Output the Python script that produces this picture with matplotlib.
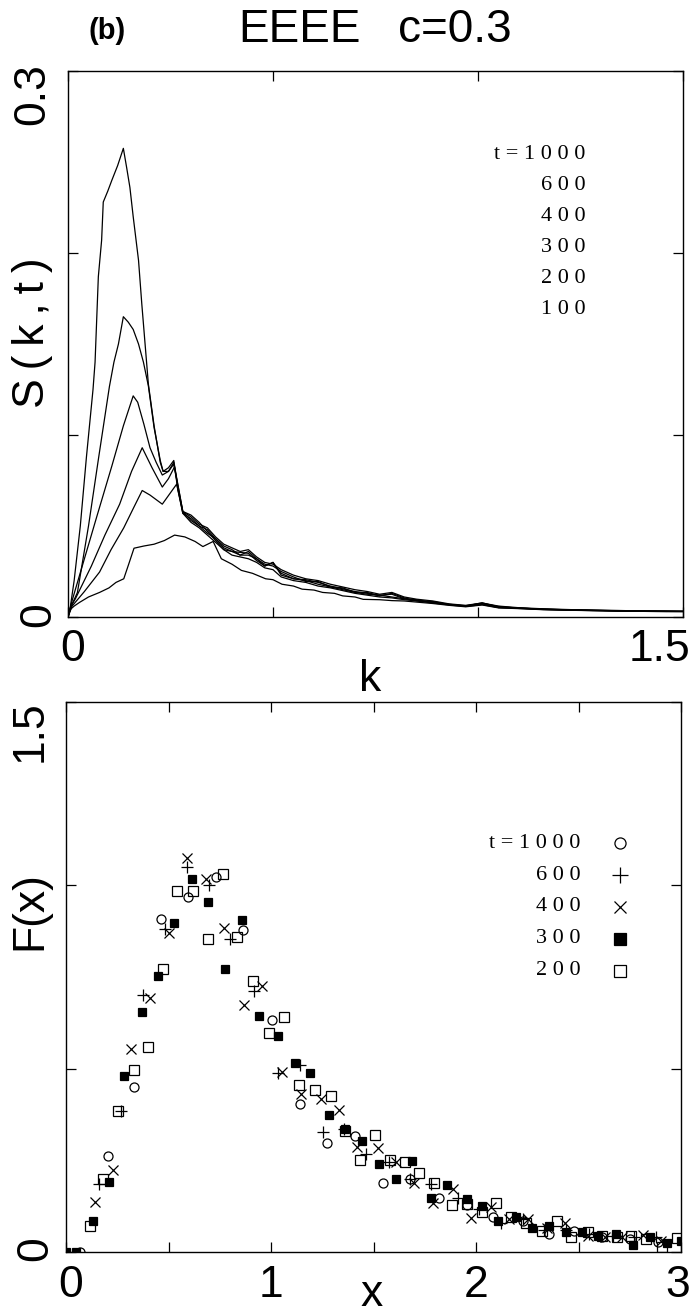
import matplotlib
matplotlib.use('Agg')
import matplotlib.pyplot as plt
from matplotlib.transforms import blended_transform_factory

# ---- panel (b) top: structure factor S(k,t) ----
t_labels = ['t = 1 0 0 0', '6 0 0', '4 0 0', '3 0 0', '2 0 0', '1 0 0']

tail_k = [0.30, 0.32, 0.34, 0.36, 0.38, 0.40, 0.42, 0.44, 0.46, 0.48, 0.50, 0.52,
          0.55, 0.58, 0.61, 0.64, 0.67, 0.70, 0.73, 0.76, 0.79, 0.82, 0.85, 0.89,
          0.93, 0.97, 1.01, 1.05, 1.10, 1.16, 1.22, 1.28, 1.34, 1.40, 1.46, 1.50]

k1000 = [0, 0.006, 0.015, 0.03, 0.045, 0.061, 0.066, 0.074, 0.082, 0.086, 0.097,
         0.107, 0.121, 0.135, 0.143, 0.151, 0.159, 0.172, 0.180, 0.196, 0.210,
         0.225, 0.232, 0.245, 0.258, 0.268, 0.28] + tail_k
s1000 = [0, 0.006, 0.02, 0.05, 0.088, 0.125, 0.14, 0.187, 0.207, 0.228, 0.234,
         0.240, 0.248, 0.2575, 0.247, 0.236, 0.220, 0.196, 0.172, 0.128, 0.105,
         0.085, 0.080, 0.080, 0.085, 0.070, 0.058,
         0.056, 0.052, 0.047, 0.042, 0.037, 0.036, 0.0355, 0.035, 0.031, 0.028,
         0.030, 0.023, 0.021, 0.0205, 0.019, 0.017, 0.0155, 0.014, 0.013, 0.012,
         0.0125, 0.010, 0.0095, 0.008, 0.007, 0.006, 0.0078, 0.0055, 0.005,
         0.0042, 0.004, 0.0037, 0.0035, 0.0033, 0.0032, 0.0031]

k600 = [0, 0.006, 0.023, 0.05, 0.075, 0.101, 0.112, 0.123, 0.135, 0.147, 0.159,
        0.172, 0.184, 0.196, 0.210, 0.225, 0.232, 0.245, 0.258, 0.268, 0.28] + tail_k
s600 = [0, 0.005, 0.0135, 0.05, 0.088, 0.1266, 0.140, 0.150, 0.165, 0.162, 0.158,
        0.150, 0.140, 0.127, 0.104, 0.086, 0.080, 0.082, 0.086, 0.071, 0.057,
        0.054, 0.050, 0.048, 0.043, 0.039, 0.037, 0.034, 0.036, 0.032, 0.029,
        0.028, 0.025, 0.022, 0.0195, 0.0195, 0.0165, 0.016, 0.0135, 0.0135,
        0.0115, 0.013, 0.0105, 0.009, 0.0085, 0.0068, 0.0062, 0.0075, 0.0058,
        0.0048, 0.0044, 0.0039, 0.0038, 0.0034, 0.0034, 0.0031, 0.0032]

k400 = [0, 0.01, 0.04, 0.07, 0.107, 0.135, 0.159, 0.17, 0.185, 0.20, 0.215, 0.23,
        0.245, 0.258, 0.27, 0.28] + tail_k
s400 = [0, 0.009, 0.032, 0.055, 0.083, 0.105, 0.1215, 0.118, 0.106, 0.093, 0.085,
        0.078, 0.080, 0.084, 0.070, 0.058,
        0.055, 0.051, 0.049, 0.044, 0.040, 0.038, 0.036, 0.037, 0.033, 0.030,
        0.029, 0.026, 0.023, 0.021, 0.020, 0.018, 0.0165, 0.015, 0.014, 0.0125,
        0.0135, 0.011, 0.0098, 0.0088, 0.0072, 0.0064, 0.0077, 0.006, 0.0051,
        0.0045, 0.0041, 0.0037, 0.0036, 0.0033, 0.0033, 0.0031]

k300 = [0, 0.01, 0.018, 0.057, 0.09, 0.126, 0.155, 0.181, 0.205, 0.230, 0.245,
        0.260, 0.28] + tail_k
s300 = [0, 0.007, 0.010, 0.028, 0.045, 0.062, 0.080, 0.093, 0.082, 0.0714, 0.076,
        0.0826, 0.058,
        0.053, 0.050, 0.046, 0.043, 0.038, 0.036, 0.034, 0.034, 0.032, 0.028,
        0.030, 0.024, 0.021, 0.020, 0.018, 0.0165, 0.015, 0.0135, 0.0125, 0.012,
        0.011, 0.010, 0.009, 0.008, 0.0068, 0.006, 0.0072, 0.0052, 0.0049,
        0.0042, 0.0039, 0.0036, 0.0034, 0.0032, 0.0031, 0.003]

k200 = [0, 0.01, 0.04, 0.077, 0.105, 0.136, 0.16, 0.181, 0.20, 0.23, 0.265,
        0.28] + tail_k
s200 = [0, 0.006, 0.014, 0.0247, 0.037, 0.049, 0.060, 0.0695, 0.067, 0.062, 0.073,
        0.057,
        0.052, 0.049, 0.045, 0.041, 0.037, 0.034, 0.033, 0.032, 0.030, 0.027,
        0.026, 0.022, 0.020, 0.019, 0.017, 0.016, 0.0145, 0.013, 0.012, 0.011,
        0.0105, 0.0095, 0.0088, 0.0077, 0.0066, 0.0058, 0.0068, 0.0052, 0.0047,
        0.0041, 0.0038, 0.0035, 0.0033, 0.0031, 0.003, 0.003]

k100 = [0, 0.005, 0.015, 0.028, 0.05, 0.077, 0.10, 0.117, 0.136, 0.148, 0.161,
        0.185, 0.21, 0.235, 0.26, 0.285, 0.31, 0.329, 0.354, 0.374, 0.40, 0.423,
        0.45, 0.482, 0.50, 0.522, 0.55, 0.571, 0.60, 0.621, 0.65, 0.67, 0.70,
        0.72, 0.76, 0.79, 0.82, 0.85, 0.89, 0.93, 0.97, 1.01, 1.05, 1.10, 1.16,
        1.22, 1.28, 1.34, 1.40, 1.46, 1.50]
s100 = [0, 0.004, 0.006, 0.008, 0.011, 0.0135, 0.016, 0.019, 0.021, 0.029, 0.0378,
        0.039, 0.040, 0.042, 0.045, 0.044, 0.0415, 0.0387, 0.0415, 0.032, 0.029,
        0.0256, 0.024, 0.021, 0.0205, 0.018, 0.017, 0.0153, 0.0148, 0.0135, 0.013,
        0.0116, 0.011, 0.0097, 0.0095, 0.009, 0.0088, 0.0082, 0.0074, 0.0064,
        0.0056, 0.0066, 0.005, 0.0046, 0.004, 0.0037, 0.0035, 0.0032, 0.0031,
        0.003, 0.003]

# ---- panel (b) bottom: scaling function F(x) ----
F_labels = ['t = 1 0 0 0', '6 0 0', '4 0 0', '3 0 0', '2 0 0']

x1000 = [0.068, 0.203, 0.332, 0.462, 0.597, 0.730, 0.865, 1.005, 1.143, 1.275,
         1.411, 1.545, 1.680, 1.820, 1.955, 2.085, 2.228, 2.358, 2.478, 2.617,
         2.750, 2.889]
f1000 = [0.0, 0.262, 0.451, 0.907, 0.967, 1.024, 0.878, 0.633, 0.404, 0.296,
         0.317, 0.187, 0.198, 0.146, 0.128, 0.096, 0.085, 0.049, 0.057, 0.042,
         0.035, 0.028]

x600 = [0.162, 0.27, 0.374, 0.483, 0.589, 0.698, 0.800, 0.917, 1.035, 1.14, 1.252,
        1.357, 1.462, 1.577, 1.68, 1.78, 1.914, 2.017, 2.12, 2.23, 2.33, 2.44,
        2.55, 2.67, 2.77, 2.878]
f600 = [0.185, 0.385, 0.701, 0.880, 1.051, 1.001, 0.854, 0.713, 0.489, 0.51, 0.327,
        0.335, 0.266, 0.245, 0.20, 0.185, 0.146, 0.118, 0.08, 0.09, 0.06, 0.06,
        0.05, 0.044, 0.04, 0.04]

x400 = [0.140, 0.231, 0.315, 0.410, 0.502, 0.589, 0.681, 0.771, 0.868, 0.958,
        1.052, 1.145, 1.244, 1.333, 1.421, 1.520, 1.608, 1.699, 1.790, 1.889,
        1.976, 2.072, 2.160, 2.255, 2.345, 2.434, 2.545, 2.63, 2.711, 2.813, 2.90]
f400 = [0.136, 0.224, 0.555, 0.694, 0.869, 1.074, 1.016, 0.885, 0.674, 0.725,
        0.492, 0.431, 0.417, 0.387, 0.287, 0.283, 0.245, 0.187, 0.135, 0.171,
        0.092, 0.122, 0.090, 0.089, 0.065, 0.078, 0.044, 0.04, 0.041, 0.046, 0.03]

x300 = [0.0, 0.048, 0.130, 0.210, 0.283, 0.369, 0.447, 0.527, 0.613, 0.691, 0.774,
        0.857, 0.943, 1.033, 1.117, 1.190, 1.283, 1.361, 1.442, 1.528, 1.608,
        1.686, 1.780, 1.857, 1.955, 2.028, 2.109, 2.194, 2.272, 2.356, 2.439,
        2.515, 2.597, 2.683, 2.764, 2.849, 2.930, 2.998]
f300 = [0.0, 0.0, 0.085, 0.192, 0.480, 0.655, 0.753, 0.896, 1.016, 0.955, 0.771,
        0.905, 0.644, 0.590, 0.516, 0.487, 0.375, 0.335, 0.304, 0.240, 0.198,
        0.249, 0.146, 0.182, 0.144, 0.125, 0.085, 0.096, 0.066, 0.071, 0.055,
        0.055, 0.044, 0.049, 0.019, 0.040, 0.025, 0.030]

x200 = [0.117, 0.182, 0.254, 0.332, 0.402, 0.475, 0.540, 0.621, 0.691, 0.764,
        0.833, 0.911, 0.992, 1.063, 1.138, 1.215, 1.291, 1.36, 1.434, 1.507, 1.58,
        1.654, 1.724, 1.797, 1.885, 1.955, 2.028, 2.098, 2.169, 2.245, 2.32,
        2.394, 2.462, 2.545, 2.617, 2.69, 2.756, 2.83, 2.909, 2.979]
f200 = [0.071, 0.198, 0.385, 0.496, 0.560, 0.771, 0.985, 0.985, 0.854, 1.030,
        0.858, 0.740, 0.596, 0.642, 0.455, 0.442, 0.426, 0.33, 0.251, 0.319, 0.25,
        0.245, 0.216, 0.187, 0.128, 0.13, 0.110, 0.133, 0.096, 0.08, 0.058,
        0.085, 0.042, 0.055, 0.045, 0.04, 0.044, 0.035, 0.015, 0.037]


W, H = 692, 1316
fig = plt.figure(figsize=(W / 100, H / 100), dpi=100)


def rect(left, top, right, bottom):
    return [left / W, 1 - bottom / H, (right - left) / W, (bottom - top) / H]


sans = ['Liberation Sans', 'DejaVu Sans']
serif = ['Liberation Serif', 'DejaVu Serif']
thin = '\u2009'

ax1 = fig.add_axes(rect(68, 71, 683, 617))
ax2 = fig.add_axes(rect(66, 702, 681, 1252))

for ax in (ax1, ax2):
    ax.tick_params(direction='in', length=7, width=0.9, top=True, right=True,
                   labelbottom=False, labelleft=False)
    for sp in ax.spines.values():
        sp.set_linewidth(1.0)

# top panel
for k, s in [(k1000, s1000), (k600, s600), (k400, s400),
             (k300, s300), (k200, s200), (k100, s100)]:
    ax1.plot(k, s, color='black', lw=0.9)
ax1.set_xlim(0, 1.5)
ax1.set_ylim(0, 0.3)
ax1.set_xticks([0, 0.5, 1.0, 1.5])
ax1.set_yticks([0, 0.1, 0.2, 0.3])

rows1 = [0.254, 0.237, 0.220, 0.203, 0.186, 0.169]
for lab, yv in zip(t_labels, rows1):
    ax1.text(1.263, yv, lab, ha='right', va='center', family=serif, fontsize=16)

bx1 = blended_transform_factory(ax1.transData, ax1.transAxes)
by1 = blended_transform_factory(ax1.transAxes, ax1.transData)
ax1.text(0.012, -0.022, '0', transform=bx1, ha='center', va='top',
         family=sans, fontsize=32)
ax1.text(1.517, -0.022, '1.5', transform=bx1, ha='right', va='top',
         family=sans, fontsize=32)
ax1.text(0.737, -0.115, 'k', transform=bx1, ha='center', va='center',
         family=sans, fontsize=32)
ax1.text(-0.057, 1.015, '0.3', transform=ax1.transAxes, rotation=90,
         ha='center', va='top', family=sans, fontsize=32)
ax1.text(-0.048, 0.0015, '0', transform=by1, rotation=90,
         ha='center', va='center', family=sans, fontsize=32)
ax1.text(-0.058, 0.52, thin.join('S(k,t)'), transform=ax1.transAxes, rotation=90,
         ha='center', va='center', family=sans, fontsize=32)

# bottom panel
ax2.plot(x1000, f1000, ls='none', marker='o', ms=6.5, mfc='none', mec='black', mew=0.9)
ax2.plot(x600, f600, ls='none', marker='+', ms=9, mec='black', mew=0.9)
ax2.plot(x400, f400, ls='none', marker='x', ms=7.5, mec='black', mew=0.9)
ax2.plot(x300, f300, ls='none', marker='s', ms=6, mfc='black', mec='black', mew=0.9)
ax2.plot(x200, f200, ls='none', marker='s', ms=6.5, mfc='none', mec='black', mew=0.9)
ax2.set_xlim(0, 3)
ax2.set_ylim(0, 1.5)
ax2.set_xticks([0, 0.5, 1.0, 1.5, 2.0, 2.5, 3.0])
ax2.set_yticks([0, 0.5, 1.0, 1.5])

rows2 = [1.115, 1.028, 0.941, 0.854, 0.767]
leg_marks = [dict(marker='o', ms=8, mfc='none'), dict(marker='+', ms=11),
             dict(marker='x', ms=9), dict(marker='s', ms=8, mfc='black'),
             dict(marker='s', ms=8, mfc='none')]
for lab, yv, mk in zip(F_labels, rows2, leg_marks):
    ax2.text(2.51, yv, lab, ha='right', va='center', family=serif, fontsize=16)
    ax2.plot([2.70], [yv], ls='none', mec='black', mew=0.9, clip_on=False, **mk)

bx2 = blended_transform_factory(ax2.transData, ax2.transAxes)
by2 = blended_transform_factory(ax2.transAxes, ax2.transData)
ax2.text(0.024, -0.024, '0', transform=bx2, ha='center', va='top',
         family=sans, fontsize=32)
ax2.text(1.0, -0.024, '1', transform=bx2, ha='center', va='top',
         family=sans, fontsize=32)
ax2.text(2.0, -0.024, '2', transform=bx2, ha='center', va='top',
         family=sans, fontsize=32)
ax2.text(3.044, -0.024, '3', transform=bx2, ha='right', va='top',
         family=sans, fontsize=32)
ax2.text(1.49, -0.078, 'x', transform=bx2, ha='center', va='center',
         family=sans, fontsize=32)
ax2.text(-0.0585, 1.004, '1.5', transform=ax2.transAxes, rotation=90,
         ha='center', va='top', family=sans, fontsize=32)
ax2.text(-0.049, 0.01, '0', transform=by2, rotation=90,
         ha='center', va='center', family=sans, fontsize=32)
ax2.text(-0.058, 0.62, 'F(x)', transform=ax2.transAxes, rotation=90,
         ha='center', va='center', family=sans, fontsize=32)

# title
fig.text(107 / W, 1 - 31 / H, '(b)', ha='center', va='center',
         family=sans, fontsize=21, fontweight='bold')
fig.text(300 / W, 1 - 30 / H, 'EEEE', ha='center', va='center',
         family=sans, fontsize=33)
fig.text(455 / W, 1 - 30 / H, 'c=0.3', ha='center', va='center',
         family=sans, fontsize=33)

fig.savefig('out.png', dpi=100)
